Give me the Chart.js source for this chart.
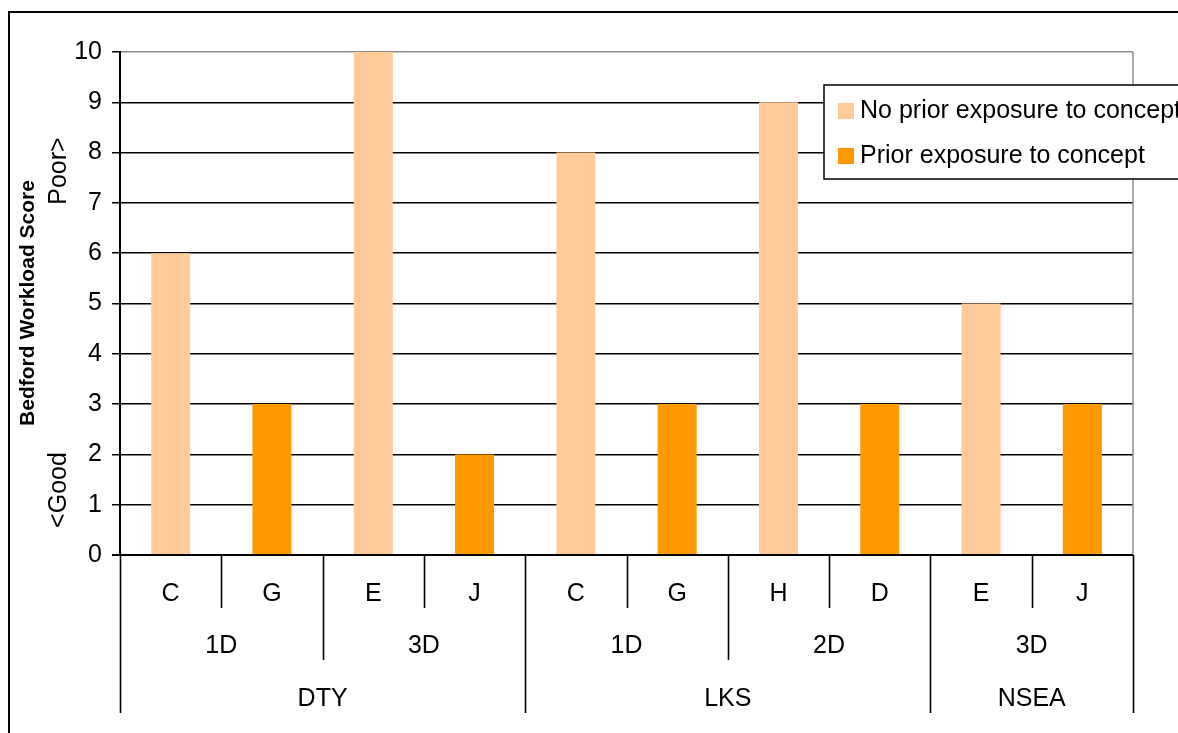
<!DOCTYPE html>
<html>
<head>
<meta charset="utf-8">
<script src="https://cdn.jsdelivr.net/npm/chart.js@4.4.1/dist/chart.umd.min.js"></script>
<style>
  html, body { margin: 0; padding: 0; background: #fff; overflow: hidden; }
  #wrap { width: 1178px; height: 733px; position: relative; }
</style>
</head>
<body>
<div id="wrap"><canvas id="c" width="1178" height="733"></canvas></div>
<script>
// ---- data ----
const letters = ['C', 'G', 'E', 'J', 'C', 'G', 'H', 'D', 'E', 'J'];
const configs = ['1D', '1D', '3D', '3D', '1D', '1D', '2D', '2D', '3D', '3D'];
const sites   = ['DTY', 'DTY', 'DTY', 'DTY', 'LKS', 'LKS', 'LKS', 'LKS', 'NSEA', 'NSEA'];
const noPrior = [6, null, 10, null, 8, null, 9, null, 5, null];
const prior   = [null, 3, null, 2, null, 3, null, 3, null, 3];
const seriesNames = ['No prior exposure to concept', 'Prior exposure to concept'];
const yTicks = [0, 1, 2, 3, 4, 5, 6, 7, 8, 9, 10];
const yTitle = 'Bedford Workload Score';
const yHigh = 'Poor>';
const yLow = '<Good';

const FONT = '"Liberation Sans", Arial, sans-serif';
const colors = ['#FFCC99', '#FF9900'];

const hierPlugin = {
  id: 'hier',
  afterDraw(chart) {
    const ctx = chart.ctx;
    const xs = chart.scales.x;
    const ca = chart.chartArea;
    const n = letters.length;
    const step = (ca.right - ca.left) / n;
    const edge = i => i === n ? ca.right : (xs.getPixelForValue(i) - step / 2);
    ctx.save();
    // outer frame
    ctx.strokeStyle = '#000';
    ctx.lineWidth = 2;
    ctx.beginPath();
    ctx.moveTo(9, 740); ctx.lineTo(9, 12); ctx.lineTo(1200, 12);
    ctx.stroke();
    // plot right border (grey)
    ctx.strokeStyle = '#8c8c8c';
    ctx.lineWidth = 1.5;
    ctx.beginPath();
    ctx.moveTo(ca.right, ca.top); ctx.lineTo(ca.right, ca.bottom);
    ctx.stroke();
    // baseline
    ctx.strokeStyle = '#000';
    ctx.lineWidth = 2;
    ctx.beginPath();
    ctx.moveTo(ca.left - 8, ca.bottom); ctx.lineTo(ca.right, ca.bottom);
    ctx.stroke();
    // separators
    const lv = [ca.bottom + 53, ca.bottom + 105, ca.bottom + 158];
    ctx.lineWidth = 1.6;
    for (let b = 0; b <= n; b++) {
      let depth;
      if (b === 0 || b === n || sites[b] !== sites[b - 1]) depth = lv[2];
      else if (configs[b] !== configs[b - 1]) depth = lv[1];
      else depth = lv[0];
      const x = Math.round(edge(b)) + 0.5;
      ctx.beginPath();
      ctx.moveTo(x, ca.bottom); ctx.lineTo(x, depth);
      ctx.stroke();
    }
    // labels
    ctx.fillStyle = '#000';
    ctx.font = '25px ' + FONT;
    ctx.textAlign = 'center';
    ctx.textBaseline = 'middle';
    const drawLevel = (arr, y, keyFn) => {
      let s = 0;
      for (let i = 1; i <= n; i++) {
        if (i === n || keyFn(i) !== keyFn(i - 1)) {
          ctx.fillText(arr[s], (edge(s) + edge(i)) / 2, y);
          s = i;
        }
      }
    };
    drawLevel(letters, ca.bottom + 39, i => i);
    drawLevel(configs, ca.bottom + 91, i => sites[i] + '|' + configs[i]);
    drawLevel(sites, ca.bottom + 144, i => sites[i]);
    // y titles
    ctx.save();
    ctx.translate(28, 303);
    ctx.rotate(-Math.PI / 2);
    ctx.font = 'bold 21px ' + FONT;
    ctx.fillText(yTitle, 0, 0);
    ctx.restore();
    ctx.font = '25px ' + FONT;
    ctx.save();
    ctx.translate(59, 171);
    ctx.rotate(-Math.PI / 2);
    ctx.fillText(yHigh, 0, 0);
    ctx.restore();
    ctx.save();
    ctx.translate(59, 490);
    ctx.rotate(-Math.PI / 2);
    ctx.fillText(yLow, 0, 0);
    ctx.restore();
    // legend
    const lx = 824, ly = 85, lw = 420, lh = 94;
    ctx.fillStyle = '#fff';
    ctx.fillRect(lx, ly, lw, lh);
    ctx.strokeStyle = '#000';
    ctx.lineWidth = 1.5;
    ctx.strokeRect(lx, ly, lw, lh);
    ctx.textAlign = 'left';
    ctx.font = '25px ' + FONT;
    chart.data.datasets.forEach((ds, i) => {
      const cy = 111 + i * 45;
      ctx.fillStyle = ds.backgroundColor;
      ctx.fillRect(838, cy - 8, 16, 16);
      ctx.fillStyle = '#000';
      ctx.fillText(ds.label, 860, cy);
    });
    ctx.restore();
  }
};

new Chart(document.getElementById('c'), {
  type: 'bar',
  data: {
    labels: letters,
    datasets: [
      { label: seriesNames[0], data: noPrior, backgroundColor: colors[0], barPercentage: 0.385, categoryPercentage: 1.0 },
      { label: seriesNames[1], data: prior, backgroundColor: colors[1], barPercentage: 0.385, categoryPercentage: 1.0 }
    ]
  },
  options: {
    responsive: false,
    animation: false,
    layout: { padding: { left: 0, top: 52, right: 45, bottom: 178 } },
    plugins: { legend: { display: false }, tooltip: { enabled: false } },
    scales: {
      x: {
        display: false,
        stacked: true
      },
      y: {
        min: 0,
        max: 10,
        afterFit(scale) { scale.width = 120; },
        afterBuildTicks(scale) { scale.ticks = yTicks.map(v => ({ value: v })); },
        ticks: {
          stepSize: 1,
          color: '#000',
          font: { family: FONT, size: 25 },
          padding: 10
        },
        grid: {
          color: c => (c.tick && c.tick.value === 10) ? '#8c8c8c' : '#000',
          lineWidth: 1.5,
          tickLength: 8,
          tickColor: '#000',
          drawTicks: true
        },
        border: { color: '#000', width: 2 }
      }
    }
  },
  plugins: [hierPlugin]
});
</script>
</body>
</html>
